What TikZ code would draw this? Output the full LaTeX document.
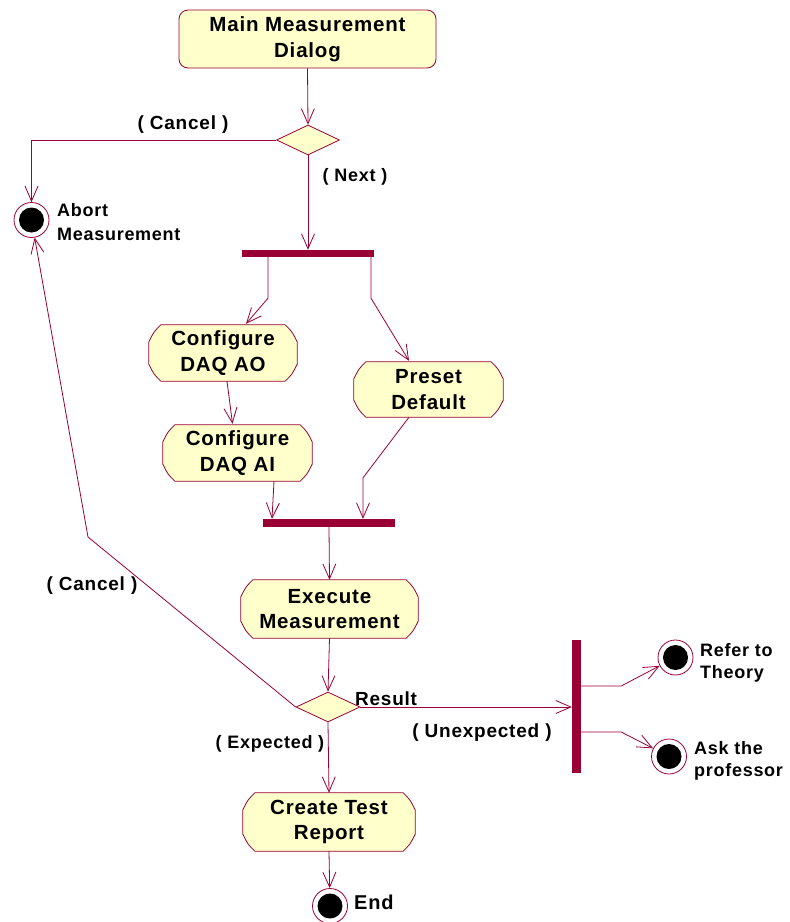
\documentclass[tikz,border=0pt]{standalone}
\usepackage{fontspec}
\setmainfont{Liberation Sans}[LetterSpace=4]
\usetikzlibrary{arrows.meta,shapes.geometric,calc,backgrounds}
\definecolor{rose}{HTML}{990033}
\definecolor{actfill}{HTML}{FFFFCC}

% activity state: name, centre x, centre y, width, height, text
\newcommand\activitynode[6]{%
  \node[actnode, minimum width=#4, minimum height=#5] (#1) at (#2,#3) {#6};
  \begin{scope}[on background layer]
    \draw[actline]
      ($(#1.north west)+(12,0)$) -- ($(#1.north east)+(-12,0)$)
      .. controls ($(#1.north east)+(-5,7)$) .. ($(#1.north east)+(0,17)$)
      -- ($(#1.south east)+(0,-17)$)
      .. controls ($(#1.south east)+(-5,-7)$) .. ($(#1.south east)+(-12,0)$)
      -- ($(#1.south west)+(12,0)$)
      .. controls ($(#1.south west)+(5,-7)$) .. ($(#1.south west)+(0,-17)$)
      -- ($(#1.north west)+(0,17)$)
      .. controls ($(#1.north west)+(5,7)$) .. cycle;
  \end{scope}}

\begin{document}
\begin{tikzpicture}[x=1pt,y=-1pt,
  boxfont/.style={font=\bfseries\fontsize{20.5}{25.5}\selectfont},
  lblfont/.style={font=\bfseries\fontsize{19}{23}\selectfont},
  actnode/.style={rectangle, inner sep=0pt, align=center, boxfont},
  actline/.style={draw=rose, fill=actfill, line width=0.8pt},
  mainbox/.style={rectangle, rounded corners=9pt, draw=rose, fill=actfill,
    line width=0.8pt, inner sep=0pt, align=center, boxfont},
  decision/.style={diamond, draw=rose, fill=actfill, line width=0.8pt,
    inner sep=0pt, minimum width=63pt, minimum height=30pt},
  syncbar/.style={rectangle, fill=rose, inner sep=0pt},
  finalstate/.style={circle, draw=rose, fill=white, line width=0.8pt,
    minimum size=35pt, inner sep=0pt,
    path picture={\fill[black] (path picture bounding box.center) circle[radius=12.5pt];}},
  flow/.style={draw=rose, line width=0.8pt,
    -{Straight Barb[length=15pt,width=13pt,line width=0.8pt]}},
  guard/.style={inner sep=0pt, lblfont},
  sidelabel/.style={inner sep=0pt, anchor=west, align=left, lblfont}]

\path[use as bounding box] (0,0) rectangle (790,922);

% states
\node[mainbox, minimum width=257pt, minimum height=58pt] (main) at (307.5,39)
  {Main Measurement\\Dialog};
\node[decision] (d1) at (308,140) {};
\node[finalstate] (abort) at (31.5,220) {};
\node[syncbar, minimum width=132pt, minimum height=7pt] (fork) at (308,253.5) {};
\activitynode{ao}{223}{353}{148pt}{56pt}{Configure\\DAQ AO}
\activitynode{ai}{237.5}{453}{149pt}{56pt}{Configure\\DAQ AI}
\activitynode{preset}{428.5}{389.5}{149pt}{55pt}{Preset\\Default}
\node[syncbar, minimum width=132pt, minimum height=8pt] (join) at (329,523) {};
\activitynode{exec}{329.5}{609}{177pt}{58pt}{Execute\\Measurement}
\node[decision, minimum width=64pt] (d2) at (328,707) {};
\node[syncbar, minimum width=9pt, minimum height=133pt] (rbar) at (576.5,706.5) {};
\node[finalstate] (refer) at (675.5,657.5) {};
\node[finalstate] (ask) at (669,756.5) {};
\activitynode{report}{329}{822}{172pt}{58pt}{Create Test\\Report}
\node[finalstate] (end) at (330,906) {};

% bend points
\coordinate (cancelbend) at (88,537);

% transitions
\draw[flow] (main.south) -- (d1.north);
\draw[flow] (d1.west) -| (abort.north);
\draw[flow] (d1.south) -- (d1.south |- fork.north);
\draw[flow] ($(fork.south)+(-40,0)$) -- ++(0,41) -- ($(ao.north)+(23,-1)$);
\draw[flow] ($(fork.south)+(63,0)$) -- ++(0,41) -- ($(preset.north)+(-19.5,-1)$);
\draw[flow] ($(ao.south)+(4,0)$) -- ($(ai.north)+(-5,-1)$);
\draw[flow] ($(ai.south)+(36.5,0)$) -- ($(join.north)+(-57,0)$);
\draw[flow] ($(preset.south)+(-19.5,0)$) -- ($(join.north)+(34,-41)$) -- ($(join.north)+(34,0)$);
\draw[flow] (join.south) -- (exec.north);
\draw[flow] (exec.south) -- (d2.north);
\draw[flow] (d2.east) -- (d2.east -| rbar.west);
\draw[flow] ($(rbar.east)+(0,-20.5)$) -- ++(40,0) -- (refer);
\draw[flow] ($(rbar.east)+(0,25.5)$) -- ++(40,0) -- (ask);
\draw[flow] (d2.west) -- (cancelbend) -- (abort);
\draw[flow] (d2.south) -- (report.north);
\draw[flow] (report.south) -- (end);

% guards and labels
\node[guard] (gcancel1) at (183,125) {( Cancel )};
\node[guard, font=\bfseries\fontsize{18}{22}\selectfont] (gnext) at (355,177) {( Next )};
\node[guard] (gcancel2) at (92,586) {( Cancel )};
\node[guard, anchor=west] (gresult) at (355,699) {Result};
\node[guard] (gunexp) at (482,733) {( Unexpected )};
\node[guard, font=\bfseries\fontsize{18}{22}\selectfont] (gexp) at (270,744) {( Expected )};
\node[sidelabel, font=\bfseries\fontsize{18}{24}\selectfont] (labort) at (57,222) {Abort\\Measurement};
\node[sidelabel, font=\bfseries\fontsize{18}{22}\selectfont] (lrefer) at (700,663) {Refer to\\Theory};
\node[sidelabel, font=\bfseries\fontsize{18}{22}\selectfont] (lask) at (694,761) {Ask the\\professor};
\node[sidelabel, font=\bfseries\fontsize{20}{24}\selectfont] (lend) at (354,902) {End};
\end{tikzpicture}
\end{document}
